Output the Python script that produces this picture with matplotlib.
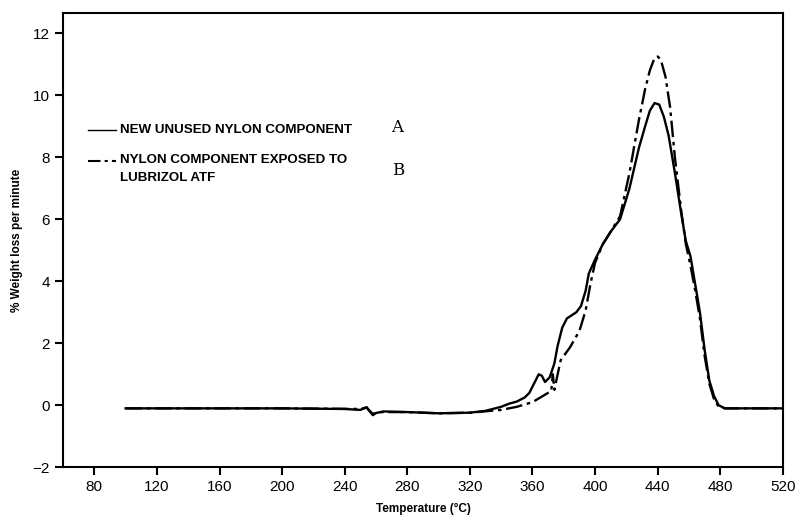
import matplotlib
matplotlib.use('Agg')
import matplotlib.pyplot as plt

# curve A: new unused nylon component (solid)
temp_a = [100, 150, 200, 240, 250, 254, 256, 258, 260, 265, 280, 300, 320, 330, 340, 345,
          350, 355, 358, 361, 364, 366, 368, 371, 374, 376, 379, 382, 385, 388, 391, 394,
          396, 400, 405, 410, 416, 422, 428, 432, 435, 438, 441, 444, 447, 451, 455, 458,
          461, 464, 467, 470, 473, 476, 479, 483, 490, 520]
loss_a = [-0.1, -0.1, -0.1, -0.12, -0.15, -0.06, -0.2, -0.32, -0.25, -0.2, -0.22, -0.26,
          -0.24, -0.18, -0.05, 0.05, 0.12, 0.25, 0.4, 0.7, 1.0, 0.95, 0.75, 0.9, 1.35, 1.9,
          2.5, 2.8, 2.9, 3.0, 3.2, 3.7, 4.25, 4.7, 5.2, 5.6, 6.0, 7.0, 8.3, 9.0, 9.5, 9.75,
          9.7, 9.3, 8.7, 7.5, 6.2, 5.3, 4.8, 3.9, 3.0, 1.8, 0.8, 0.3, 0.0, -0.1, -0.1, -0.1]

# curve B: nylon component exposed to Lubrizol ATF (dash-dot)
temp_b = [100, 200, 250, 254, 258, 262, 280, 300, 320, 340, 350, 360, 365, 370, 372, 373,
          374, 378, 384, 390, 394, 397, 400, 405, 410, 416, 422, 428, 432, 435, 438, 440,
          442, 445, 448, 451, 455, 458, 461, 464, 467, 470, 473, 476, 479, 483, 490, 520]
loss_b = [-0.1, -0.1, -0.12, -0.08, -0.28, -0.22, -0.22, -0.26, -0.24, -0.15, -0.05, 0.1,
          0.25, 0.4, 0.45, 1.0, 0.5, 1.45, 1.87, 2.4, 3.06, 3.9, 4.6, 5.2, 5.6, 6.1, 7.5,
          9.2, 10.2, 10.8, 11.2, 11.25, 11.15, 10.6, 9.6, 8.0, 6.3, 5.2, 4.5, 3.7, 2.8, 1.6,
          0.7, 0.2, -0.05, -0.1, -0.1, -0.1]

x_ticks = list(range(80, 521, 40))
y_ticks = list(range(-2, 13, 2))
lab_a = 'NEW UNUSED NYLON COMPONENT'
lab_b = ['NYLON COMPONENT EXPOSED TO', 'LUBRIZOL ATF']

plt.rcParams['font.family'] = ['Liberation Sans', 'DejaVu Sans']
fig = plt.figure(figsize=(7.98, 5.25), dpi=100)
ax = fig.add_axes([0.079, 0.11, 0.902, 0.865])

dashdot = (0, (7, 2, 1.5, 2))
ax.plot(temp_a, loss_a, color='black', lw=1.7)
ax.plot(temp_b, loss_b, color='black', lw=1.7, linestyle=dashdot)

ax.set_xlim(60, 520)
ax.set_ylim(-2, 12.65)
ax.set_xticks(x_ticks)
ax.set_yticks(y_ticks)
ax.tick_params(direction='out', length=6, width=1.5, labelsize=11)
for s in ax.spines.values():
    s.set_linewidth(1.5)

ax.set_xlabel('Temperature (°C)', fontsize=8.5, labelpad=6, fontweight='bold')
ax.set_ylabel('% Weight loss per minute', fontsize=8.5, labelpad=7, fontweight='bold')

# hand-drawn style legend
tr = ax.transAxes
ax.plot([0.035, 0.073], [0.742, 0.742], transform=tr, color='black', lw=1.0)
ax.plot([0.035, 0.073], [0.674, 0.674], transform=tr, color='black', lw=1.5,
        linestyle=(0, (6, 2, 1.5, 2)))
ax.text(0.079, 0.742, lab_a, transform=tr, fontsize=9.6, va='center', ha='left',
        fontweight='bold')
ax.text(0.079, 0.676, lab_b[0], transform=tr, fontsize=9.6, va='center', ha='left',
        fontweight='bold')
ax.text(0.079, 0.637, lab_b[1], transform=tr, fontsize=9.6, va='center', ha='left',
        fontweight='bold')
ax.text(0.456, 0.749, 'A', transform=tr, fontsize=12, va='center', ha='left',
        family='DejaVu Serif')
ax.text(0.457, 0.654, 'B', transform=tr, fontsize=12, va='center', ha='left',
        family='DejaVu Serif')

fig.savefig('out.png', dpi=100)
